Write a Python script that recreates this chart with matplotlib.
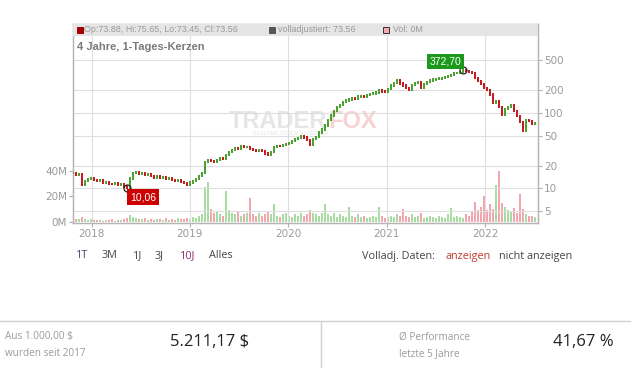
import pandas as pd
import matplotlib
matplotlib.use("Agg")
import matplotlib.pyplot as plt
from matplotlib.patches import Rectangle
from matplotlib.lines import Line2D

W, H = 631, 368

# weekly-ish closes (late 2017 -> mid 2022)
closes = [
    15.8, 15.2, 15.6, 11.2, 12.6, 13.2, 13.8, 13.0, 12.6, 12.8, 11.9, 12.2, 11.5, 11.4, 11.6, 11.1, 11.3, 10.6, 10.06,
    13.5, 15.8, 16.2, 15.5, 15.9, 15.0, 15.4, 14.6, 13.9, 14.3, 13.6, 14.0, 13.2, 13.5, 12.8, 12.6, 12.9, 12.2, 11.8,
    11.0, 11.9, 12.6, 13.4, 14.6, 15.8,
    22.5, 23.8, 23.0, 22.2, 23.5, 25.0, 24.2, 27.5, 30.5, 32.0, 34.5, 33.5, 36.0, 35.0, 35.5, 33.0, 32.0, 31.5, 32.5,
    31.0, 29.0, 27.5, 30.0, 35.0, 36.5, 36.0, 37.5, 39.0, 40.0, 42.0, 44.5, 46.0, 49.5,
    47.0, 44.0, 37.5, 45.0, 48.0, 55.0, 60.0, 68.0, 80.0, 92.0, 105.0, 118.0, 126.0, 138.0, 145.0, 150.0, 158.0, 155.0,
    165.0, 168.0, 162.0, 172.0, 176.0, 180.0, 186.0, 198.0, 192.0, 188.0, 205.0, 230.0, 250.0, 272.0, 245.0,
    230.0, 212.0, 200.0, 235.0, 248.0, 258.0, 215.0, 238.0, 258.0, 268.0, 276.0, 280.0, 285.0, 290.0, 298.0, 305.0,
    320.0, 335.0, 340.0, 345.0, 372.7, 355.0, 350.0, 335.0, 290.0, 262.0, 240.0, 212.0, 200.0, 175.0, 135.0, 142.0,
    118.0, 95.0, 112.0, 120.0, 125.0, 105.0, 90.0, 75.0, 58.0, 80.0, 77.0, 72.0, 73.56,
]
# volume in millions, one per candle
volumes = [
    3.5, 2.5, 2.0, 4.0, 2.5, 1.5, 2.0, 1.5, 1.2, 1.8, 1.0, 1.5, 1.2, 2.0, 1.0, 1.5, 1.2, 2.5, 3.0,
    5.5, 4.0, 3.5, 2.5, 2.0, 3.0, 1.8, 2.2, 1.5, 2.5, 2.0, 1.5, 2.8, 1.8, 2.2, 1.5, 3.0, 2.0, 2.5, 3.5, 2.0, 4.0, 3.0,
    4.5, 6.0,
    27.0, 31.0, 10.0, 7.0, 8.0, 6.0, 5.0, 24.5, 9.0, 7.0, 6.0, 8.0, 5.0, 6.0, 7.0, 19.0, 6.0, 5.0, 7.0, 5.0, 6.0, 8.0,
    6.0, 14.0, 5.0, 4.0, 6.0, 7.0, 5.0, 4.0, 6.0, 5.0, 7.0,
    5.0, 6.0, 9.0, 7.0, 6.0, 5.0, 7.0, 14.0, 6.0, 5.0, 7.0, 4.0, 6.0, 5.0, 4.0, 12.0, 5.0, 4.0, 6.0, 4.0, 5.0, 3.5,
    4.0, 5.0, 4.0, 12.0, 5.0, 3.5, 4.0, 5.0, 4.0, 6.0, 5.0,
    10.0, 5.0, 4.0, 6.0, 4.0, 5.0, 7.0, 3.5, 4.0, 5.0, 4.0, 3.5, 5.0, 4.0, 3.5, 6.0, 11.0, 4.0, 5.0, 4.0, 3.5, 6.0,
    5.0, 8.0, 16.0, 9.0, 12.0, 20.0, 9.0, 14.0, 10.0, 29.0, 40.0, 15.0, 12.0, 9.0, 8.0, 11.0, 7.0, 22.0, 10.0, 6.0,
    5.0, 5.0, 4.0,
]
year_labels = ["2018", "2019", "2020", "2021", "2022"]
price_ticks = [5, 10, 20, 50, 100, 200, 500]
vol_ticks = [0, 20, 40]

dates = pd.date_range("2017-10-24", "2022-07-06", periods=len(closes))
opens = [closes[0]] + closes[:-1]
up = [c >= o for o, c in zip(opens, closes)]


def fx(x):
    return x / W


def fy(y):
    return 1 - y / H


fig = plt.figure(figsize=(W / 100, H / 100), dpi=100)
fig.patch.set_facecolor("white")

ax = fig.add_axes([fx(72.5), fy(223), (538 - 72.5) / W, (223 - 24) / H])
ax2 = ax.twinx()
ax.patch.set_visible(False)

grey = "#9a9a9a"
# volume (left axis)
vcol = ["#a9dca2" if u else "#f2a7b0" for u in up]
ax.bar(dates, volumes, width=10, color=vcol, zorder=1)
ax.set_ylim(-0.8, 155)
ax.set_yticks(vol_ticks)
ax.set_yticklabels([f"{v}M" for v in vol_ticks])
ax.set_xlim(pd.Timestamp("2017-10-22"), pd.Timestamp("2022-07-17"))
ax.set_xticks([pd.Timestamp(f"{y}-01-01") for y in year_labels])
ax.set_xticklabels(year_labels)
ax.tick_params(axis="both", colors="#b0b0b0", labelcolor=grey, labelsize=7.5, length=3, width=0.8, pad=1)

# price (right axis, log)
ax2.set_yscale("log")
ax2.set_ylim(3.47, 1500)
ax2.set_yticks(price_ticks)
ax2.set_yticklabels([str(p) for p in price_ticks])
ax2.minorticks_off()
ax2.tick_params(axis="y", colors="#b0b0b0", labelcolor=grey, labelsize=7.5, length=3, width=0.8, pad=1.5)

for p in price_ticks:
    ax2.axhline(p, color="#dedede", lw=0.8, zorder=0)
for y in year_labels:
    ax2.axvline(pd.Timestamp(f"{y}-01-01"), color="#dedede", lw=0.8, zorder=0)

for a in (ax, ax2):
    for s in a.spines.values():
        s.set_color("#b5b5b5")
        s.set_linewidth(0.9)

# candles: body from previous close to close, slightly stretched like a wick
lo = [min(o, c) / 1.035 for o, c in zip(opens, closes)]
hi = [max(o, c) * 1.035 for o, c in zip(opens, closes)]
ccol = ["#46a02c" if u else "#c4161c" for u in up]
ax2.vlines(dates, lo, hi, colors=ccol, lw=1.4, zorder=3)

# high / low markers
imax = closes.index(max(closes))
imin = closes.index(min(closes))
for i, dx, dy, fc in [(imax, -18, 8, "#1a991a"), (imin, 16, -9, "#cc0000")]:
    ax2.plot(dates[i], closes[i], "o", ms=5, mfc="none", mec="#222222", mew=0.9, zorder=6)
    ax2.annotate(f"{closes[i]:.2f}".replace(".", ","), xy=(dates[i], closes[i]), xytext=(dx, dy),
                 textcoords="offset pixels", ha="center", va="center", color="white", fontsize=7.5,
                 family="Liberation Sans", zorder=7,
                 bbox=dict(boxstyle="square,pad=0.25", fc=fc, ec="none"))

# header strip
ax2.add_patch(Rectangle((0, (223 - 35.5) / 199), 1, 1 - (223 - 35.5) / 199, transform=ax2.transAxes,
                        fc="#e5e5e5", ec="none", zorder=8))
hdr = dict(fontsize=6.4, color=grey, va="center", family="Liberation Sans")
for x0, fc, ec in [(77, "#a50000", "#a50000"), (269, "#555555", "#555555"), (383, "#f4a9b4", "#333333")]:
    fig.add_artist(Rectangle((fx(x0), fy(33)), 6 / W, 6 / H, transform=fig.transFigure, fc=fc, ec=ec, lw=0.7,
                             zorder=10))
fig.text(fx(84), fy(30), "Op:73.88, Hi:75.65, Lo:73.45, Cl:73.56", zorder=10, **hdr)
fig.text(fx(278), fy(30), "volladjustiert: 73.56", zorder=10, **hdr)
fig.text(fx(393), fy(30), "Vol: 0M", zorder=10, **hdr)
fig.text(fx(77), fy(47), "4 Jahre, 1-Tages-Kerzen", fontsize=8, fontweight="bold", color="#7a7a7a",
         va="center", family="Liberation Sans", zorder=10)

# watermark
fig.text(fx(327), fy(121), "TRADER", ha="right", va="center", fontsize=17, fontweight="bold",
         color="#e6e6e6", family="Liberation Sans", zorder=-1)
fig.text(fx(328), fy(121), "FOX", ha="left", va="center", fontsize=17, fontweight="bold",
         color="#f8d2d2", family="Liberation Sans", zorder=-1)
fig.text(fx(291), fy(133.5), "REALTIME STOCK SCREENER", ha="center", va="center", fontsize=3.8,
         color="#e6e6e6", family="Liberation Sans", zorder=-1)

# range links
nav = dict(fontsize=7.8, va="center", family="Open Sans")
for x0, t, c in [(76, "1T", "#5b3a7a"), (102, "3M", "#444444"), (133, "1J", "#444444"),
                 (155, "3J", "#444444"), (180, "10J", "#8e2b72"), (209, "Alles", "#444444")]:
    fig.text(fx(x0), fy(256), t, color=c, **nav)
fig.text(fx(362), fy(256), "Volladj. Daten:", color="#444444", **nav)
fig.text(fx(445), fy(256), "anzeigen", color="#c0392b", **nav)
fig.text(fx(499), fy(256), "nicht anzeigen", color="#444444", **nav)

# performance footer
fig.add_artist(Line2D([0, 1], [fy(321), fy(321)], transform=fig.transFigure, color="#d0d0d0", lw=1))
fig.add_artist(Line2D([fx(321), fx(321)], [fy(321), 0], transform=fig.transFigure, color="#d0d0d0", lw=1))
small = dict(fontsize=7.2, color="#9a9a9a", va="center", family="Open Sans")
big = dict(fontsize=12, color="#222222", va="center", family="Open Sans")
fig.text(fx(5), fy(337), "Aus 1.000,00 $", **small)
fig.text(fx(5), fy(354), "wurden seit 2017", **small)
fig.text(fx(170), fy(342), "5.211,17 $", **big)
fig.text(fx(399), fy(337), "Ø Performance", **small)
fig.text(fx(399), fy(354), "letzte 5 Jahre", **small)
fig.text(fx(553), fy(342), "41,67 %", **big)

fig.savefig("out.png", dpi=100)
